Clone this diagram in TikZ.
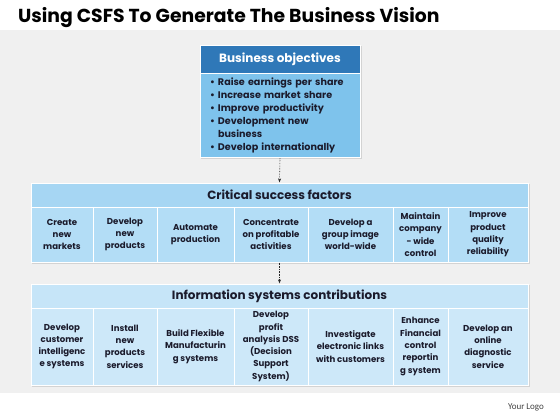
\documentclass[tikz,border=0pt]{standalone}
\usepackage{fontspec}
\setmainfont{Poppins}
\newfontfamily\logofont{Carlito}
\usepackage{tikz}
\usetikzlibrary{fit,backgrounds,arrows.meta,positioning,shadows}

\definecolor{bgGray}{HTML}{F0F0F0}
\definecolor{boHead}{HTML}{2F78B8}
\definecolor{boBody}{HTML}{7EC3EC}
\definecolor{csfHead}{HTML}{A6D6F3}
\definecolor{csfCell}{HTML}{B3DDF6}
\definecolor{iscHead}{HTML}{C6E5F8}
\definecolor{iscCell}{HTML}{CDE8F9}
\definecolor{txtDark}{HTML}{1B1B2C}

\begin{document}
\begin{tikzpicture}[x=1pt, y=-1pt,
    hdr/.style={rectangle, draw=white, line width=0.8pt, font=\fontsize{12}{14}\selectfont\bfseries, text=txtDark, inner sep=0pt},
    cell/.style={rectangle, draw=white, line width=0.8pt, font=\fontsize{8.6}{12.3}\selectfont\bfseries, text=txtDark, align=center, inner sep=0pt},
    grp/.style={rectangle, fill=white, inner sep=0pt, drop shadow={opacity=0.25, shadow xshift=1.2pt, shadow yshift=-1.2pt}},
    arr/.style={-{Stealth[length=4pt, width=3pt]}, densely dotted, line width=0.6pt, black!85},
]
\useasboundingbox (0,0) rectangle (560,420);

% === TITLE ===
\node[anchor=base west, inner sep=0pt, font=\fontsize{18.8}{22}\selectfont\bfseries] (title)
    at (18,23) {Using CSFS To Generate The Business Vision};

% === BUSINESS OBJECTIVES ===
\node[hdr, fill=boHead, text=white, minimum width=160pt, minimum height=28pt] (bohead)
    at (280,59) {Business objectives};
\node[rectangle, draw=white, line width=0.8pt, fill=boBody, text=txtDark, minimum height=84pt,
      text width=140pt, inner xsep=10pt, inner ysep=0pt, align=left,
      font=\fontsize{9.6}{13}\selectfont\bfseries, below=0pt of bohead] (bobody)
    {\makebox[8pt][l]{\textbullet}Raise earnings per share\\
     \makebox[8pt][l]{\textbullet}Increase market share\\
     \makebox[8pt][l]{\textbullet}Improve productivity\\
     \makebox[8pt][l]{\textbullet}Development new\\
     \makebox[8pt][l]{}business\\
     \makebox[8pt][l]{\textbullet}Develop internationally};

% === CRITICAL SUCCESS FACTORS ===
\node[hdr, fill=csfHead, minimum width=497pt, minimum height=24pt] (csfhead)
    at (279.5,195) {Critical success factors};
\foreach \xa/\xb/\txt [count=\i] in {
    31/93/{Create\\new\\markets},
    93/157/{Develop\\new\\products},
    157/234/{Automate\\production},
    234/308/{Concentrate\\on profitable\\activities},
    308/393/{Develop a\\group image\\world-wide},
    393/448/{Maintain\\company\\- wide\\control},
    448/528/{Improve\\product\\quality\\reliability}}{
    \pgfmathsetmacro\cw{\xb-\xa}
    \pgfmathsetmacro\cx{(\xa+\xb)/2}
    \node[cell, fill=csfCell, minimum width=\cw pt, minimum height=55pt] (csf\i)
        at (\cx,234.5) {\txt};
}

% === INFORMATION SYSTEMS CONTRIBUTIONS ===
\node[hdr, fill=iscHead, minimum width=497pt, minimum height=24pt] (ischead)
    at (279.5,296) {Information systems contributions};
\foreach \xa/\xb/\txt [count=\i] in {
    31/93/{Develop\\customer\\intelligenc\\e systems},
    93/157/{Install\\new\\products\\services},
    157/234/{Build Flexible\\Manufacturin\\g systems},
    234/308/{Develop\\profit\\analysis DSS\\(Decision\\Support\\System)},
    308/393/{Investigate\\electronic links\\with customers},
    393/448/{Enhance\\Financial\\control\\reportin\\g system},
    448/528/{Develop an\\online\\diagnostic\\service}}{
    \pgfmathsetmacro\cw{\xb-\xa}
    \pgfmathsetmacro\cx{(\xa+\xb)/2}
    \node[cell, fill=iscCell, minimum width=\cw pt, minimum height=77pt] (isc\i)
        at (\cx,346.5) {\txt};
}

% Shadowed backs on the gray band
\begin{pgfonlayer}{background}
    \fill[bgGray] (0,30) rectangle (560,393);
    \node[grp, fit=(bohead)(bobody)] (bogrp) {};
    \node[grp, fit=(csfhead)(csf1)(csf7)] (csfgrp) {};
    \node[grp, fit=(ischead)(isc1)(isc7)] (iscgrp) {};
\end{pgfonlayer}

% === ARROWS DOWN ===
\draw[arr] (bogrp.south) -- (csfgrp.north);
\draw[arr] (csfgrp.south) -- (iscgrp.north);

% === LOGO ===
\node[font=\logofont\fontsize{9}{10}\selectfont, text=black!75] (logo) at (526,407) {Your Logo};

\end{tikzpicture}
\end{document}
